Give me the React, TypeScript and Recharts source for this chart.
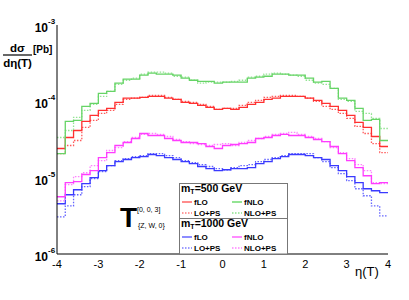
import React from "react";
import { LineChart, Line, XAxis, YAxis } from "recharts";

const FONT = '"Liberation Sans", Arial, Helvetica, sans-serif';

// bin edges in eta(T), 40 bins of 0.2
const ETA_EDGES = Array.from({ length: 41 }, (_, i) => Math.round((-4 + i * 0.2) * 10) / 10);

const X_TICKS = [-4, -3, -2, -1, 0, 1, 2, 3, 4];
const X_MINOR = ETA_EDGES.filter((e) => !X_TICKS.includes(e));
const Y_TICKS = [1e-6, 1e-5, 1e-4, 1e-3];
const Y_MINOR = [
  2e-6, 3e-6, 4e-6, 5e-6, 6e-6, 7e-6, 8e-6, 9e-6,
  2e-5, 3e-5, 4e-5, 5e-5, 6e-5, 7e-5, 8e-5, 9e-5,
  2e-4, 3e-4, 4e-4, 5e-4, 6e-4, 7e-4, 8e-4, 9e-4,
];

// mT = 500 GeV
const FLO_500 = [
  2.41e-5, 3.36e-5, 4.15e-5, 5.46e-5, 6.54e-5, 7.61e-5, 8.09e-5, 9.7e-5, 1.1e-4, 1.1e-4,
  1.13e-4, 1.16e-4, 1.16e-4, 1.1e-4, 1.06e-4, 9.7e-5, 9.41e-5, 8.86e-5, 8.34e-5, 7.85e-5,
  8.09e-5, 7.85e-5, 8.34e-5, 9.13e-5, 9.7e-5, 1.06e-4, 1.1e-4, 1.16e-4, 1.16e-4, 1.16e-4,
  1.1e-4, 1.03e-4, 9.41e-5, 8.59e-5, 7.61e-5, 6.54e-5, 5.29e-5, 4.55e-5, 3.46e-5, 2.56e-5,
];
const LOPS_500 = [
  2.07e-5, 2.64e-5, 3.07e-5, 4.55e-5, 5.62e-5, 6.95e-5, 7.61e-5, 9.13e-5, 1.06e-4, 1.1e-4,
  1.13e-4, 1.2e-4, 1.2e-4, 1.13e-4, 1.06e-4, 1.0e-4, 9.7e-5, 9.13e-5, 8.59e-5, 7.85e-5,
  8.09e-5, 8.09e-5, 8.86e-5, 9.7e-5, 1.03e-4, 1.13e-4, 1.16e-4, 1.2e-4, 1.2e-4, 1.16e-4,
  1.1e-4, 1.0e-4, 8.59e-5, 7.85e-5, 6.95e-5, 5.97e-5, 4.69e-5, 3.79e-5, 2.8e-5, 2.13e-5,
];
const FNLO_500 = [
  2.07e-5, 5.46e-5, 5.62e-5, 8.59e-5, 9.41e-5, 1.27e-4, 1.35e-4, 1.73e-4, 1.95e-4, 1.95e-4,
  2.2e-4, 2.34e-4, 2.27e-4, 2.27e-4, 2.2e-4, 2.01e-4, 1.89e-4, 1.83e-4, 1.83e-4, 1.73e-4,
  1.78e-4, 1.78e-4, 1.78e-4, 2.01e-4, 2.07e-4, 2.13e-4, 2.27e-4, 2.27e-4, 2.2e-4, 2.2e-4,
  2.01e-4, 1.78e-4, 1.83e-4, 1.48e-4, 1.1e-4, 1.03e-4, 8.09e-5, 5.62e-5, 5.8e-5, 3.07e-5,
];
const NLOPS_500 = [
  3.36e-5, 4.15e-5, 6.16e-5, 7.61e-5, 9.13e-5, 1.16e-4, 1.35e-4, 1.67e-4, 1.89e-4, 2.01e-4,
  2.27e-4, 2.41e-4, 2.41e-4, 2.34e-4, 2.13e-4, 2.07e-4, 1.89e-4, 1.73e-4, 1.78e-4, 1.78e-4,
  1.78e-4, 1.83e-4, 1.89e-4, 2.07e-4, 2.13e-4, 2.27e-4, 2.34e-4, 2.27e-4, 2.2e-4, 2.13e-4,
  1.89e-4, 1.73e-4, 1.67e-4, 1.48e-4, 1.06e-4, 1.0e-4, 7.39e-5, 6.95e-5, 5.97e-5, 4.41e-5,
];

// mT = 1000 GeV
const FLO_1000 = [
  4.55e-6, 5.97e-6, 6.95e-6, 8.34e-6, 1.0e-5, 1.24e-5, 1.44e-5, 1.62e-5, 1.73e-5, 1.83e-5,
  1.89e-5, 2.01e-5, 1.95e-5, 1.83e-5, 1.73e-5, 1.62e-5, 1.53e-5, 1.4e-5, 1.31e-5, 1.24e-5,
  1.27e-5, 1.31e-5, 1.31e-5, 1.35e-5, 1.53e-5, 1.62e-5, 1.78e-5, 1.89e-5, 2.01e-5, 2.01e-5,
  1.95e-5, 1.83e-5, 1.73e-5, 1.44e-5, 1.24e-5, 1.03e-5, 8.59e-6, 7.16e-6, 6.74e-6, 6.35e-6,
];
const LOPS_1000 = [
  3.07e-6, 4.26e-6, 5.97e-6, 7.61e-6, 9.7e-6, 1.2e-5, 1.44e-5, 1.67e-5, 1.78e-5, 1.89e-5,
  1.95e-5, 2.07e-5, 2.07e-5, 1.95e-5, 1.83e-5, 1.67e-5, 1.57e-5, 1.48e-5, 1.4e-5, 1.31e-5,
  1.27e-5, 1.35e-5, 1.44e-5, 1.48e-5, 1.62e-5, 1.73e-5, 1.83e-5, 1.95e-5, 2.07e-5, 2.07e-5,
  2.07e-5, 1.83e-5, 1.62e-5, 1.35e-5, 1.13e-5, 9.13e-6, 7.16e-6, 5.8e-6, 4.26e-6, 3.16e-6,
];
const FNLO_1000 = [
  5.62e-6, 8.59e-6, 8.86e-6, 1.1e-5, 1.24e-5, 1.83e-5, 2.13e-5, 2.64e-5, 2.89e-5, 3.26e-5,
  3.79e-5, 3.57e-5, 3.57e-5, 3.26e-5, 3.07e-5, 2.89e-5, 2.89e-5, 2.8e-5, 2.56e-5, 2.41e-5,
  2.64e-5, 2.72e-5, 2.8e-5, 2.89e-5, 3.26e-5, 3.36e-5, 3.57e-5, 3.68e-5, 3.57e-5, 3.57e-5,
  3.36e-5, 3.16e-5, 2.97e-5, 2.56e-5, 2.07e-5, 1.67e-5, 1.35e-5, 1.06e-5, 8.34e-6, 8.59e-6,
];
const NLOPS_1000 = [
  4.98e-6, 8.09e-6, 1.03e-5, 1.16e-5, 1.44e-5, 1.67e-5, 2.27e-5, 2.48e-5, 2.97e-5, 3.36e-5,
  3.68e-5, 3.79e-5, 3.68e-5, 3.46e-5, 3.16e-5, 2.97e-5, 2.8e-5, 2.72e-5, 2.64e-5, 2.72e-5,
  2.8e-5, 2.64e-5, 2.89e-5, 3.07e-5, 3.26e-5, 3.46e-5, 3.68e-5, 3.79e-5, 3.91e-5, 3.68e-5,
  3.46e-5, 3.26e-5, 2.97e-5, 2.48e-5, 2.13e-5, 1.78e-5, 1.48e-5, 1.24e-5, 8.59e-6, 8.34e-6,
];

const SERIES = [
  { key: "lops1000", vals: LOPS_1000, color: "#6464ff", dotted: true },
  { key: "flo1000", vals: FLO_1000, color: "#3a3aff", dotted: false },
  { key: "nlops1000", vals: NLOPS_1000, color: "#ff80ff", dotted: true },
  { key: "fnlo1000", vals: FNLO_1000, color: "#ff3cff", dotted: false },
  { key: "lops500", vals: LOPS_500, color: "#ff5a5a", dotted: true },
  { key: "flo500", vals: FLO_500, color: "#ff3030", dotted: false },
  { key: "nlops500", vals: NLOPS_500, color: "#94e494", dotted: true },
  { key: "fnlo500", vals: FNLO_500, color: "#66d466", dotted: false },
];

// step-after histogram rows: one per bin edge, last edge repeats the last bin
const rows = ETA_EDGES.map((x, i) => {
  const r: Record<string, number> = { x };
  SERIES.forEach((s) => {
    r[s.key] = s.vals[Math.min(i, s.vals.length - 1)];
  });
  return r;
});

const PowTick = ({ x, y, payload }: any) => {
  const exp = Math.round(Math.log10(payload.value));
  return (
    <g fontFamily={FONT} fill="#000">
      <text x={x - 9} y={y + 7} textAnchor="end" fontSize={12} fontWeight="bold">10</text>
      <text x={x - 9} y={y - 1} fontSize={8} fontWeight="bold">{`-${-exp}`}</text>
    </g>
  );
};

const LegendRow = ({ y, c1, c2, dotted, t1, t2 }: any) => (
  <g>
    <line x1={182} x2={192} y1={y} y2={y} stroke={c1} strokeWidth={2} strokeDasharray={dotted ? "1.5 1.5" : undefined} />
    <text x={194} y={y + 3} fontSize={8} fontWeight="bold">{t1}</text>
    <line x1={232} x2={242} y1={y} y2={y} stroke={c2} strokeWidth={2} strokeDasharray={dotted ? "1.5 1.5" : undefined} />
    <text x={244} y={y + 3} fontSize={8} fontWeight="bold">{t2}</text>
  </g>
);

export default function App() {
  const dom: [number, number] = [-4, 4];
  const ydom: [number, number] = [1e-6, 1e-3];
  return (
    <div style={{ position: "absolute", left: 0, top: 0, width: 409, height: 300, background: "#fff" }}>
      <LineChart width={409} height={300} data={rows} margin={{ top: 25, right: 21, bottom: 0, left: 0 }}>
        <XAxis xAxisId="x" dataKey="x" type="number" domain={dom} allowDataOverflow ticks={X_TICKS} interval={0}
          height={46} tickSize={0} tickMargin={6} axisLine={{ stroke: "#000" }}
          tick={{ fontSize: 11, fill: "#000", fontFamily: FONT }} />
        <XAxis xAxisId="xmaj" dataKey="x" type="number" domain={dom} allowDataOverflow ticks={X_TICKS} interval={0}
          mirror height={0} tickSize={6} tick={false} axisLine={false} tickLine={{ stroke: "#000" }} />
        <XAxis xAxisId="xmin" dataKey="x" type="number" domain={dom} allowDataOverflow ticks={X_MINOR} interval={0}
          mirror height={0} tickSize={3} tick={false} axisLine={false} tickLine={{ stroke: "#000" }} />
        <XAxis xAxisId="xtop" dataKey="x" type="number" orientation="top" domain={dom} allowDataOverflow ticks={X_TICKS} interval={0}
          mirror height={0} tickSize={6} tick={false} axisLine={{ stroke: "#000" }} tickLine={{ stroke: "#000" }} />
        <XAxis xAxisId="xtopmin" dataKey="x" type="number" orientation="top" domain={dom} allowDataOverflow ticks={X_MINOR} interval={0}
          mirror height={0} tickSize={3} tick={false} axisLine={false} tickLine={{ stroke: "#000" }} />

        <YAxis yAxisId="y" type="number" scale="log" domain={ydom} allowDataOverflow ticks={Y_TICKS} interval={0}
          width={57} tickSize={0} tickMargin={0} axisLine={{ stroke: "#000" }} tick={<PowTick />} />
        <YAxis yAxisId="ymaj" type="number" scale="log" domain={ydom} allowDataOverflow ticks={Y_TICKS} interval={0}
          mirror width={0} tickSize={10} tick={false} axisLine={false} tickLine={{ stroke: "#000" }} />
        <YAxis yAxisId="ymin" type="number" scale="log" domain={ydom} allowDataOverflow ticks={Y_MINOR} interval={0}
          mirror width={0} tickSize={5} tick={false} axisLine={false} tickLine={{ stroke: "#000" }} />
        <YAxis yAxisId="yr" type="number" orientation="right" scale="log" domain={ydom} allowDataOverflow ticks={Y_TICKS} interval={0}
          mirror width={0} tickSize={10} tick={false} axisLine={{ stroke: "#000" }} tickLine={{ stroke: "#000" }} />
        <YAxis yAxisId="yrmin" type="number" orientation="right" scale="log" domain={ydom} allowDataOverflow ticks={Y_MINOR} interval={0}
          mirror width={0} tickSize={5} tick={false} axisLine={false} tickLine={{ stroke: "#000" }} />

        {SERIES.map((s) => (
          <Line key={s.key} xAxisId="x" yAxisId="y" dataKey={s.key} type="stepAfter" stroke={s.color}
            strokeWidth={1.3} strokeDasharray={s.dotted ? "1.5 1.5" : undefined}
            dot={false} activeDot={false} isAnimationActive={false} />
        ))}
      </LineChart>

      <svg width={409} height={300} style={{ position: "absolute", left: 0, top: 0, pointerEvents: "none" }}
        fontFamily={FONT} fill="#000">
        {/* y title */}
        <text x={17.5} y={52} textAnchor="middle" fontSize={11.5} fontWeight="bold">dσ</text>
        <line x1={3} x2={32} y1={55} y2={55} stroke="#000" strokeWidth={1.2} />
        <text x={17.5} y={67} textAnchor="middle" fontSize={11.5} fontWeight="bold">dη(T)</text>
        <text x={33} y={53} fontSize={10} fontWeight="bold">[Pb]</text>
        {/* x title */}
        <text x={355} y={276} fontSize={13}>η(T)</text>
        {/* operator label */}
        <text x={120} y={227} fontSize={28} fontWeight="bold">T</text>
        <text x={137} y={212} fontSize={7}>[0, 0, 3]</text>
        <text x={138} y={228} fontSize={7}>{"{Z, W, 0}"}</text>

        {/* legend */}
        <rect x={179.5} y={183.5} width={108} height={35} fill="#fff" stroke="#777" />
        <rect x={179.5} y={218.5} width={108} height={35.5} fill="#fff" stroke="#777" />
        <text x={181} y={191.5} fontSize={10.5} fontWeight="bold">
          m<tspan fontSize={7} dy={2}>T</tspan><tspan dy={-2}>=500 GeV</tspan>
        </text>
        <LegendRow y={202} c1="#ff8c8c" c2="#94e494" t1="fLO" t2="fNLO" />
        <LegendRow y={213} c1="#ff9c9c" c2="#a8eaa8" t1="LO+PS" t2="NLO+PS" dotted />
        <text x={181} y={227} fontSize={10.5} fontWeight="bold">
          m<tspan fontSize={7} dy={2}>T</tspan><tspan dy={-2}>=1000 GeV</tspan>
        </text>
        <LegendRow y={237} c1="#8c8cff" c2="#ff8cff" t1="fLO" t2="fNLO" />
        <LegendRow y={248} c1="#9c9cff" c2="#ffa0ff" t1="LO+PS" t2="NLO+PS" dotted />
      </svg>
    </div>
  );
}
